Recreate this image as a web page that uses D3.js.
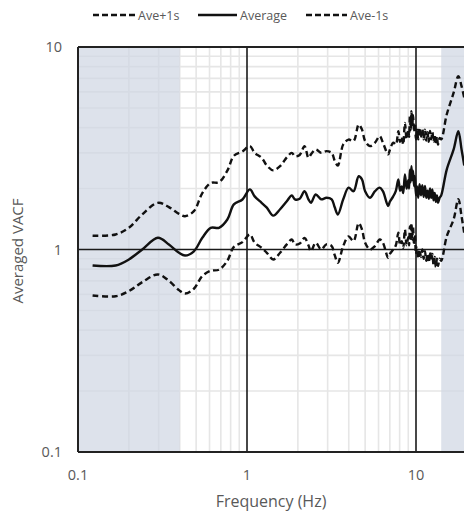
<!DOCTYPE html>
<html><head><meta charset="utf-8">
<script src="https://cdn.jsdelivr.net/npm/d3@7"></script>
<style>
html,body{margin:0;padding:0;background:#fff;}
svg{display:block;}
text{font-family:"Open Sans","Liberation Sans",sans-serif;fill:#595959;}
</style></head>
<body>
<svg id="c" width="464" height="511"></svg>
<script>
const freq = [0.122,0.167,0.2,0.24,0.297,0.345,0.396,0.43,0.485,0.544,0.61,0.683,0.765,0.836,0.94,1.04,1.11,1.22,1.31,1.43,1.57,1.72,1.84,1.92,2.05,2.19,2.31,2.39,2.55,2.75,2.95,3.17,3.3,3.45,3.71,3.99,4.27,4.58,4.79,5.0,5.34,5.72,6.1,6.37,
  6.84,7.0,7.33,7.6,7.86,8.05,8.23,8.4,8.6,8.8,9.0,9.1,9.2,9.3,9.4,9.5,9.6,9.75,9.85,10.0,10.15,10.3,10.5,10.7,10.9,11.1,11.3,11.5,11.7,11.9,12.1,12.3,12.5,12.7,12.9,13.1,13.3,13.5,13.8,14.1,15.2,16.7,17.8,18.6,19.3];
const average = [0.834,0.834,0.893,1.0,1.142,1.058,0.963,0.934,0.98,1.142,1.28,1.28,1.406,1.67,1.766,1.98,1.83,1.70,1.61,1.47,1.58,1.73,1.85,1.77,1.78,1.94,1.77,1.70,1.87,1.77,1.80,1.77,1.62,1.49,1.77,2.02,1.94,2.30,2.22,1.94,1.80,1.94,2.02,1.94,
  1.64,1.72,1.83,1.95,2.22,1.95,2.05,1.9,2.35,2.0,2.2,2.0,2.48,2.15,2.58,2.2,2.45,2.05,2.3,1.85,2.05,1.8,2.1,1.85,2.08,1.82,2.06,1.8,1.95,1.78,2.0,1.8,1.98,1.75,1.9,1.72,1.85,1.7,1.8,1.85,2.48,3.12,3.84,3.12,2.6];
const avePlus1s = [1.17,1.186,1.28,1.49,1.70,1.62,1.50,1.46,1.546,1.9,2.13,2.15,2.45,2.9,3.05,3.24,3.0,2.84,2.6,2.46,2.58,2.85,3.0,2.89,2.93,3.24,2.84,2.95,3.12,3.0,3.06,3.0,2.75,2.6,3.3,3.49,3.43,4.14,3.91,3.43,3.24,3.37,3.63,3.37,
  2.95,3.1,3.37,3.3,3.84,3.4,3.6,3.3,4.22,3.5,3.9,3.6,4.55,3.9,4.82,4.0,4.6,3.8,4.2,3.5,3.9,3.5,4.0,3.55,3.95,3.5,3.9,3.45,3.8,3.4,3.85,3.5,3.8,3.4,3.7,3.3,3.6,3.3,3.55,3.5,4.64,5.95,7.18,6.41,5.6];
const aveMinus1s = [0.593,0.588,0.623,0.69,0.753,0.70,0.63,0.606,0.64,0.74,0.785,0.795,0.88,1.03,1.087,1.186,1.08,1.02,0.963,0.893,0.963,1.06,1.12,1.06,1.07,1.14,1.05,0.98,1.08,1.0,1.06,1.04,0.94,0.86,1.04,1.16,1.10,1.35,1.255,1.08,1.0,1.04,1.12,1.08,
  0.91,0.95,1.0,1.05,1.21,1.05,1.1,1.02,1.255,1.05,1.15,1.05,1.3,1.1,1.35,1.12,1.3,1.05,1.18,0.95,1.02,0.9,1.0,0.92,1.0,0.9,0.98,0.88,0.95,0.86,0.97,0.88,0.95,0.84,0.92,0.82,0.9,0.83,0.9,0.88,1.16,1.41,1.77,1.46,1.2];
const shadedBands = [[0.1,0.4],[14.1,100]];
const xTicks = [0.1,1,10];
const yTicks = [0.1,1,10];
const legendItems = [{name:"Ave+1s",dash:true},{name:"Average",dash:false},{name:"Ave-1s",dash:true}];

const svg = d3.select("#c");
const x = d3.scaleLog().domain([0.1,100]).range([78,585]);
const y = d3.scaleLog().domain([0.1,10]).range([452,47]);
const x0 = 78, x1 = 585, yT = 47, yB = 452;

// minor grid
const minorX = [];
[0.1,1,10].forEach(d=>{for(let k=2;k<=9;k++) minorX.push(d*k);});
const minorY = [];
[0.1,1].forEach(d=>{for(let k=2;k<=9;k++) minorY.push(d*k);});
svg.append("g").selectAll("line").data(minorX).join("line")
  .attr("x1",d=>x(d)).attr("x2",d=>x(d)).attr("y1",yT).attr("y2",yB)
  .attr("stroke","#e6e6e6").attr("stroke-width",1.6);
svg.append("g").selectAll("line").data(minorY).join("line")
  .attr("x1",x0).attr("x2",x1).attr("y1",d=>y(d)).attr("y2",d=>y(d))
  .attr("stroke","#e6e6e6").attr("stroke-width",1.6);

// shaded bands
svg.append("g").selectAll("rect").data(shadedBands).join("rect")
  .attr("x",d=>x(d[0])).attr("y",yT).attr("width",d=>x(d[1])-x(d[0])).attr("height",yB-yT)
  .attr("fill","#d0d7e3").attr("fill-opacity",0.72);

// major lines
svg.append("g").selectAll("line").data([1,10]).join("line")
  .attr("x1",d=>x(d)).attr("x2",d=>x(d)).attr("y1",yT).attr("y2",yB)
  .attr("stroke","#1a1a1a").attr("stroke-width",1.6);
svg.append("line").attr("x1",x0).attr("x2",x1).attr("y1",y(1)).attr("y2",y(1))
  .attr("stroke","#1a1a1a").attr("stroke-width",1.6);
// frame
svg.append("line").attr("x1",x0).attr("x2",x1).attr("y1",yT).attr("y2",yT).attr("stroke","#222").attr("stroke-width",2);
svg.append("line").attr("x1",x0).attr("x2",x1).attr("y1",yB).attr("y2",yB).attr("stroke","#222").attr("stroke-width",2);
svg.append("line").attr("x1",x0).attr("x2",x0).attr("y1",yT).attr("y2",yB).attr("stroke","#222").attr("stroke-width",2);

// series
const line = d3.line().x(d=>x(d[0])).y(d=>y(d[1])).curve(d3.curveCatmullRom.alpha(0.5));
const mk = arr => freq.map((f,i)=>[f,arr[i]]);
svg.append("path").datum(mk(avePlus1s)).attr("d",line).attr("fill","none")
  .attr("stroke","#111").attr("stroke-width",2.4).attr("stroke-dasharray","6,3.5");
svg.append("path").datum(mk(aveMinus1s)).attr("d",line).attr("fill","none")
  .attr("stroke","#111").attr("stroke-width",2.4).attr("stroke-dasharray","6,3.5");
svg.append("path").datum(mk(average)).attr("d",line).attr("fill","none")
  .attr("stroke","#111").attr("stroke-width",2.4);

// tick labels
svg.append("g").selectAll("text").data(xTicks).join("text")
  .attr("x",d=>x(d)).attr("y",480).attr("text-anchor","middle").attr("font-size",14.5).text(d=>String(d));
svg.append("g").selectAll("text").data(yTicks).join("text")
  .attr("x",62).attr("y",d=>y(d)+5).attr("text-anchor","end").attr("font-size",14.5).text(d=>String(d));

// axis titles
svg.append("text").attr("x",271).attr("y",507).attr("text-anchor","middle").attr("font-size",16).text("Frequency (Hz)");
svg.append("text").attr("transform","translate(23,251) rotate(-90)").attr("text-anchor","middle").attr("font-size",15).text("Averaged VACF");

// legend
const lg = svg.append("g");
const lx = [93,198,306];
const lw = [42,39,41];
legendItems.forEach((d,i)=>{
  lg.append("line").attr("x1",lx[i]).attr("x2",lx[i]+lw[i]).attr("y1",15).attr("y2",15)
    .attr("stroke","#111").attr("stroke-width",2.4).attr("stroke-dasharray",d.dash?"6,3":null);
  lg.append("text").attr("x",lx[i]+lw[i]+3).attr("y",19.5).attr("font-size",12.5).text(d.name);
});
</script>
</body></html>
